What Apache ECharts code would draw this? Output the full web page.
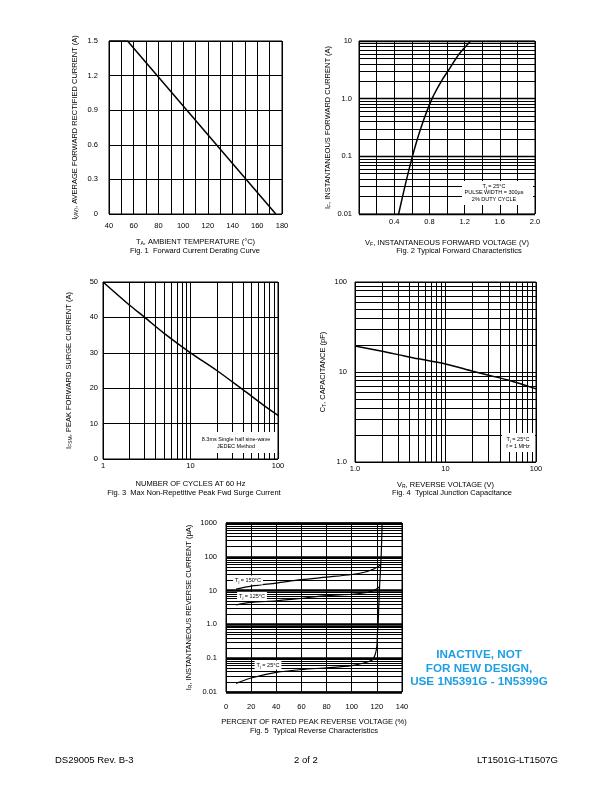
<!DOCTYPE html>
<html>
<head>
<meta charset="utf-8">
<script src="https://cdn.jsdelivr.net/npm/echarts@6/dist/echarts.min.js"></script>
<style>
html,body{margin:0;padding:0;background:#fff;}
#chart{width:612px;height:792px;}
</style>
</head>
<body>
<div id="chart"></div>
<script>
// ---------------- DATA ----------------
// Fig. 1 Forward Current Derating Curve
const fig1Temperature = [40, 55, 175];
const fig1Current = [1.5, 1.5, 0];
const fig1XTicks = [40, 60, 80, 100, 120, 140, 160, 180];
const fig1XTickLabels = ['40', '60', '80', '100', '120', '140', '160', '180'];
const fig1YTicks = [0, 0.3, 0.6, 0.9, 1.2, 1.5];
const fig1YTickLabels = ['0', '0.3', '0.6', '0.9', '1.2', '1.5'];

// Fig. 2 Typical Forward Characteristics
const fig2Voltage = [0.45, 0.525, 0.607, 0.705, 0.83, 0.935, 1.02, 1.14, 1.27];
const fig2Current = [0.01, 0.0316, 0.1, 0.316, 1.0, 2.0, 3.16, 6.0, 10];
const fig2XTicks = [0.4, 0.8, 1.2, 1.6, 2.0];
const fig2XTickLabels = ['0.4', '0.8', '1.2', '1.6', '2.0'];
const fig2YTicks = [0.01, 0.1, 1, 10];
const fig2YTickLabels = ['0.01', '0.1', '1.0', '10'];

// Fig. 3 Max Non-Repetitive Peak Fwd Surge Current
const fig3Cycles = [1, 2, 3, 5, 10, 20, 40, 70, 100];
const fig3Surge = [50, 43.5, 40, 35.5, 30, 25, 19.5, 15, 12.3];
const fig3XTicks = [1, 10, 100];
const fig3XTickLabels = ['1', '10', '100'];
const fig3YTicks = [0, 10, 20, 30, 40, 50];
const fig3YTickLabels = ['0', '10', '20', '30', '40', '50'];

// Fig. 4 Typical Junction Capacitance
const fig4Voltage = [1, 2, 3, 5, 10, 20, 30, 50, 100];
const fig4Capacitance = [19.5, 17, 15.6, 14, 12.3, 10.2, 9.2, 8.1, 6.5];
const fig4XTicks = [1, 10, 100];
const fig4XTickLabels = ['1.0', '10', '100'];
const fig4YTicks = [1, 10, 100];
const fig4YTickLabels = ['1.0', '10', '100'];

// Fig. 5 Typical Reverse Characteristics
const fig5Pct150 = [8, 20, 40, 60, 80, 100, 110, 117, 120, 122, 123];
const fig5Cur150 = [11, 13.5, 16.7, 21, 25, 30, 35, 43, 49, 54, 60];
const fig5Pct125 = [8, 20, 40, 60, 80, 100, 112, 117, 120, 122.1];
const fig5Cur125 = [3.8, 4.5, 5.0, 5.9, 7.1, 7.8, 8.8, 10, 11.4, 13];
const fig5Pct25 = [8, 20, 40, 60, 80, 100, 112.5, 116.5, 118.6, 120, 120.5, 121, 122, 123.4, 124.2];
const fig5Cur25 = [0.018, 0.026, 0.038, 0.046, 0.052, 0.06, 0.077, 0.09, 0.126, 0.23, 0.57, 1, 10, 100, 1000];
const fig5XTicks = [0, 20, 40, 60, 80, 100, 120, 140];
const fig5XTickLabels = ['0', '20', '40', '60', '80', '100', '120', '140'];
const fig5YTicks = [0.01, 0.1, 1, 10, 100, 1000];
const fig5YTickLabels = ['0.01', '0.1', '1.0', '10', '100', '1000'];

// gridline multipliers inside each decade of the log axes
const logMinorSteps = [2, 3, 4, 5, 6, 7, 8, 9];

// ---------------- HELPERS ----------------
const FONT = '"Liberation Sans", Arial, Helvetica, sans-serif';
const BLACK = '#000';

function zip(a, b) { return a.map((v, i) => [v, b[i]]); }
function picker(ticks, labels, isLog) {
  return function (v) {
    for (let i = 0; i < ticks.length; i++) {
      const t = ticks[i];
      const same = isLog ? Math.abs(Math.log10(t) - Math.log10(v)) < 1e-6 : Math.abs(t - v) < 1e-6;
      if (same) return labels[i];
    }
    return '';
  };
}
function minorValues(decades) {
  const out = [];
  decades.forEach(d => logMinorSteps.forEach(m => out.push(+(d * m).toPrecision(4))));
  return out;
}
function gridMarks(list) {
  return {
    silent: true, symbol: ['none', 'none'], label: { show: false },
    lineStyle: { color: BLACK, width: 1, type: 'solid', opacity: 1 },
    emphasis: { disabled: true }, animation: false, precision: 6,
    data: list
  };
}
const richBase = {
  n: { fontFamily: FONT, fontSize: 7.5, color: BLACK, fill: BLACK, lineHeight: 9 },
  s: { fontFamily: FONT, fontSize: 5, color: BLACK, fill: BLACK, lineHeight: 5, verticalAlign: 'bottom' }
};
function nameStyle() { return { fontFamily: FONT, fontSize: 7.5, color: BLACK, rich: richBase }; }

function linAxis(gi, min, max, interval, ticks, labels, margin, name, gap) {
  return {
    type: 'value', gridIndex: gi, min: min, max: max, interval: interval,
    axisLine: { show: false }, axisTick: { show: false },
    splitLine: { show: true, lineStyle: { color: BLACK, width: 1 } },
    axisLabel: { formatter: picker(ticks, labels, false), margin: margin, fontFamily: FONT, fontSize: 7.5, color: BLACK, showMinLabel: true, showMaxLabel: true },
    name: name, nameLocation: 'middle', nameGap: gap, nameTextStyle: nameStyle()
  };
}
function logAxis(gi, min, max, ticks, labels, margin, name, gap, splitWidth) {
  return {
    type: 'log', logBase: 10, gridIndex: gi, min: min, max: max,
    axisLine: { show: false }, axisTick: { show: false },
    splitLine: { show: true, lineStyle: { color: BLACK, width: splitWidth || 1 } },
    axisLabel: { formatter: picker(ticks, labels, true), margin: margin, fontFamily: FONT, fontSize: 7.5, color: BLACK, showMinLabel: true, showMaxLabel: true },
    name: name, nameLocation: 'middle', nameGap: gap, nameTextStyle: nameStyle()
  };
}
function curve(xi, data, width, marks, smooth) {
  const s = {
    type: 'line', xAxisIndex: xi, yAxisIndex: xi, data: data, showSymbol: false, symbol: 'none',
    smooth: smooth === undefined ? 0.3 : smooth, lineStyle: { color: BLACK, width: width }, silent: true, z: 5
  };
  if (marks) s.markLine = gridMarks(marks);
  return s;
}
function text(x, y, str, size, extra) {
  return {
    type: 'text', x: x, y: y, z: 100, silent: true,
    style: Object.assign({ text: str, fontFamily: FONT, fontSize: size, fill: BLACK, align: 'center', verticalAlign: 'middle' }, extra || {})
  };
}
function box(x, y, w, h) {
  return { type: 'rect', z: 99, silent: true, shape: { x: x, y: y, width: w, height: h }, style: { fill: '#fff' } };
}
const smallRich = {
  n: { fontFamily: FONT, fontSize: 5.5, fill: BLACK, color: BLACK, lineHeight: 7 },
  s: { fontFamily: FONT, fontSize: 4, fill: BLACK, color: BLACK, lineHeight: 4, verticalAlign: 'bottom' }
};

// ---------------- CHART ----------------
const chart = echarts.init(document.getElementById('chart'), null, { renderer: 'canvas' });

const gridStyle = { show: true, borderColor: BLACK, borderWidth: 1, backgroundColor: 'transparent', containLabel: false };
const option = {
  animation: false,
  backgroundColor: '#fff',
  grid: [
    Object.assign({ left: 109, top: 41, width: 173, height: 173 }, gridStyle),
    Object.assign({ left: 359, top: 41, width: 176, height: 173 }, gridStyle),
    Object.assign({ left: 103, top: 282, width: 175, height: 177 }, gridStyle),
    Object.assign({ left: 355, top: 282, width: 181, height: 180 }, gridStyle),
    Object.assign({ left: 226, top: 523, width: 176, height: 169 }, gridStyle)
  ],
  xAxis: [
    linAxis(0, 40, 180, 10, fig1XTicks, fig1XTickLabels, 8, '{n|T}{s|A}{n|, AMBIENT TEMPERATURE (°C)}', 23),
    linAxis(1, 0, 2.0, 0.2, fig2XTicks, fig2XTickLabels, 4, '{n|V}{s|F}{n|, INSTANTANEOUS FORWARD VOLTAGE (V)}', 24),
    logAxis(2, 1, 100, fig3XTicks, fig3XTickLabels, 3, '{n|NUMBER OF CYCLES AT 60 Hz}', 20),
    logAxis(3, 1, 100, fig4XTicks, fig4XTickLabels, 3, '{n|V}{s|R}{n|, REVERSE VOLTAGE (V)}', 18),
    linAxis(4, 0, 140, 20, fig5XTicks, fig5XTickLabels, 11, '{n|PERCENT OF RATED PEAK REVERSE VOLTAGE (%)}', 25)
  ],
  yAxis: [
    linAxis(0, 0, 1.5, 0.3, fig1YTicks, fig1YTickLabels, 11, '{n|I}{s|(AV)}{n|, AVERAGE FORWARD RECTIFIED CURRENT (A)}', 30),
    logAxis(1, 0.01, 10, fig2YTicks, fig2YTickLabels, 7, '{n|I}{s|F}{n|, INSTANTANEOUS FORWARD CURRENT (A)}', 27, 1.3),
    linAxis(2, 0, 50, 10, fig3YTicks, fig3YTickLabels, 5, '{n|I}{s|FSM}{n|, PEAK FORWARD SURGE CURRENT (A)}', 30),
    logAxis(3, 1, 100, fig4YTicks, fig4YTickLabels, 8, '{n|C}{s|T}{n|, CAPACITANCE (pF)}', 28),
    logAxis(4, 0.01, 1000, fig5YTicks, fig5YTickLabels, 9, '{n|I}{s|R}{n|, INSTANTANEOUS REVERSE CURRENT (µA)}', 33, 2.5)
  ],
  series: [
    curve(0, zip(fig1Temperature, fig1Current), 1.5, null, false),
    curve(1, zip(fig2Voltage, fig2Current), 1.5, minorValues([0.01, 0.1, 1]).map(v => ({ yAxis: v }))),
    curve(2, zip(fig3Cycles, fig3Surge), 1.5, minorValues([1, 10]).map(v => ({ xAxis: v }))),
    curve(3, zip(fig4Voltage, fig4Capacitance), 1.5,
      minorValues([1, 10]).map(v => ({ xAxis: v })).concat(minorValues([1, 10]).map(v => ({ yAxis: v })))),
    curve(4, zip(fig5Pct150, fig5Cur150), 1.2, minorValues([0.01, 0.1, 1, 10, 100]).map(v => ({ yAxis: v }))),
    curve(4, zip(fig5Pct125, fig5Cur125), 1.2),
    curve(4, zip(fig5Pct25, fig5Cur25), 1.2)
  ],
  graphic: [
    // figure captions
    text(195, 251, 'Fig. 1  Forward Current Derating Curve', 7.5),
    text(459, 251, 'Fig. 2 Typical Forward Characteristics', 7.5),
    text(194, 493, 'Fig. 3  Max Non-Repetitive Peak Fwd Surge Current', 7.5),
    text(452, 493, 'Fig. 4  Typical Junction Capacitance', 7.5),
    text(314, 731, 'Fig. 5  Typical Reverse Characteristics', 7.5),
    // Fig 2 condition box
    box(462, 181, 71, 24),
    text(494, 186, '{n|T}{s|j}{n| = 25°C}', 5.5, { rich: smallRich }),
    text(494, 192.5, 'PULSE WIDTH = 300µs', 5.5),
    text(494, 199, '2% DUTY CYCLE', 5.5),
    // Fig 3 condition box
    box(196, 432, 81, 21),
    text(236, 439.5, '8.3ms Single half sine-wave', 5.5),
    text(236, 446, 'JEDEC Method', 5.5),
    // Fig 4 condition box
    box(502, 433, 33, 19),
    text(518, 439, '{n|T}{s|j}{n| = 25°C}', 5.5, { rich: smallRich }),
    text(518, 446, 'f = 1 MHz', 5.5),
    // Fig 5 curve labels
    text(248, 580, '{n|T}{s|j}{n| = 150°C}', 5.5, { rich: smallRich, backgroundColor: '#fff', padding: [1, 2] }),
    text(252, 596.5, '{n|T}{s|j}{n| = 125°C}', 5.5, { rich: smallRich, backgroundColor: '#fff', padding: [1, 2] }),
    text(268, 665, '{n|T}{s|j}{n| = 25°C}', 5.5, { rich: smallRich, backgroundColor: '#fff', padding: [1, 2] }),
    // inactive notice
    text(479, 655, 'INACTIVE, NOT', 11.7, { fill: '#1f9fe3', fontWeight: 'bold' }),
    text(479, 668.5, 'FOR NEW DESIGN,', 11.7, { fill: '#1f9fe3', fontWeight: 'bold' }),
    text(479, 682, 'USE 1N5391G - 1N5399G', 11.7, { fill: '#1f9fe3', fontWeight: 'bold' }),
    // footer
    text(55, 760, 'DS29005 Rev. B-3', 9.5, { align: 'left' }),
    text(306, 760, '2 of 2', 9.5),
    text(558, 760, 'LT1501G-LT1507G', 9.5, { align: 'right' })
  ]
};
chart.setOption(option);
</script>
</body>
</html>
